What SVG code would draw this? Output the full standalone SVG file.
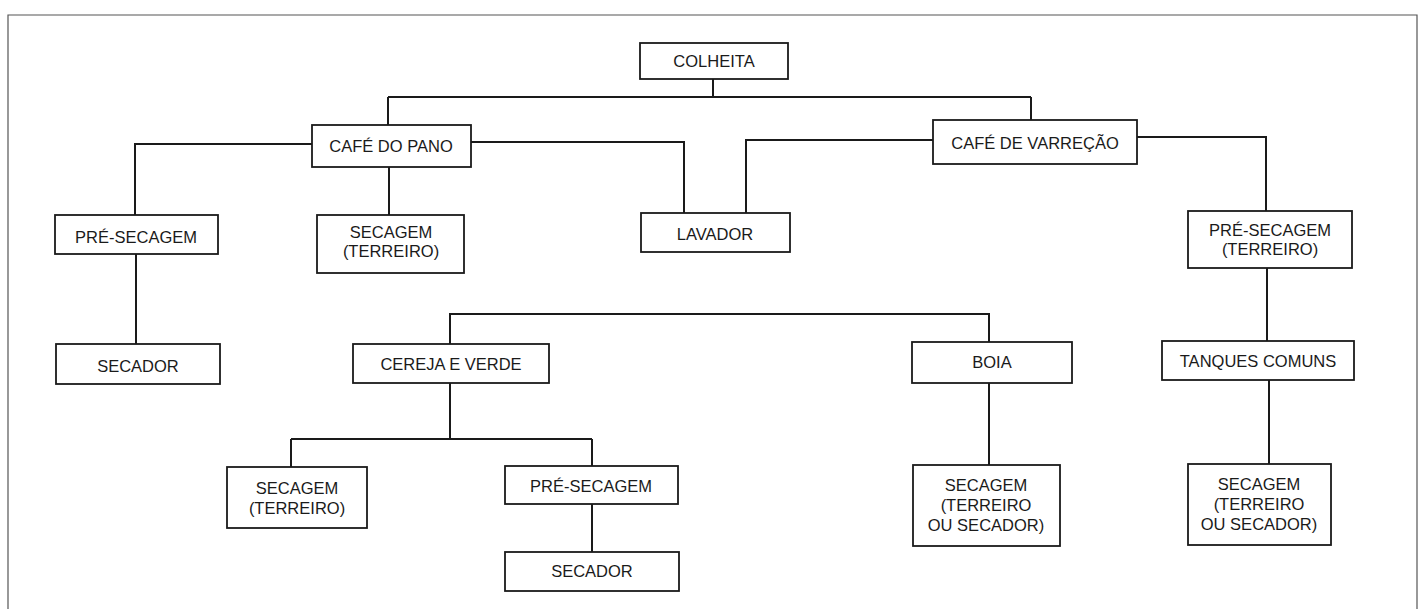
<svg xmlns="http://www.w3.org/2000/svg" width="1424" height="609" viewBox="0 0 1424 609">
<style>
.box{fill:#fff;stroke:#1a1a1a;stroke-width:1.8}
.t{font-family:"Liberation Sans",Arial,sans-serif;font-size:16.5px;fill:#1a1a1a;text-anchor:middle}
.c{fill:none;stroke:#1a1a1a;stroke-width:2}
.frame{fill:none;stroke:#555;stroke-width:1.2}
</style>
<rect width="1424" height="609" fill="#fff"/>
<path class="frame" d="M8,620 V15 H1417 V620"/>
<g id="connectors">
<path class="c" d="M713,79 V97 M388,97 H1031 M388,97 V125 M1031,97 V120"/>
<path class="c" d="M312,144 H135 V215"/>
<path class="c" d="M389,167 V215"/>
<path class="c" d="M471,142 H684 V213"/>
<path class="c" d="M933,140 H746 V213"/>
<path class="c" d="M1137,137 H1266 V211"/>
<path class="c" d="M136,254 V344"/>
<path class="c" d="M1267,268 V341"/>
<path class="c" d="M1269,380 V464"/>
<path class="c" d="M450,344 V314 H989 V342"/>
<path class="c" d="M989,383 V465"/>
<path class="c" d="M450,383 V439 M291,439 H592 M291,439 V467 M592,439 V466"/>
<path class="c" d="M592,504 V552"/>
</g>
<g id="colheita"><rect class="box" x="640" y="43" width="148" height="36"/><text class="t" x="714" y="67">COLHEITA</text></g>
<g id="cafe-do-pano"><rect class="box" x="312" y="125" width="159" height="42"/><text class="t" x="391" y="152">CAFÉ DO PANO</text></g>
<g id="cafe-de-varrecao"><rect class="box" x="933" y="120" width="204" height="44"/><text class="t" x="1035" y="149">CAFÉ DE VARREÇÃO</text></g>
<g id="pre-secagem-1"><rect class="box" x="55" y="215" width="163" height="39"/><text class="t" x="136" y="243">PRÉ-SECAGEM</text></g>
<g id="secador-1"><rect class="box" x="56" y="344" width="164" height="40"/><text class="t" x="138" y="372">SECADOR</text></g>
<g id="secagem-terreiro-1"><rect class="box" x="317" y="215" width="147" height="58"/><text class="t" x="391" y="238">SECAGEM</text><text class="t" x="391" y="257">(TERREIRO)</text></g>
<g id="lavador"><rect class="box" x="641" y="213" width="149" height="39"/><text class="t" x="715" y="240">LAVADOR</text></g>
<g id="pre-secagem-terreiro"><rect class="box" x="1188" y="211" width="164" height="57"/><text class="t" x="1270" y="236">PRÉ-SECAGEM</text><text class="t" x="1270" y="255">(TERREIRO)</text></g>
<g id="tanques-comuns"><rect class="box" x="1162" y="341" width="192" height="39"/><text class="t" x="1258" y="367">TANQUES COMUNS</text></g>
<g id="secagem-ts-2"><rect class="box" x="1188" y="464" width="143" height="81"/><text class="t" x="1259" y="490">SECAGEM</text><text class="t" x="1259" y="510">(TERREIRO</text><text class="t" x="1259" y="530">OU SECADOR)</text></g>
<g id="cereja-e-verde"><rect class="box" x="353" y="344" width="196" height="39"/><text class="t" x="451" y="370">CEREJA E VERDE</text></g>
<g id="boia"><rect class="box" x="912" y="342" width="160" height="41"/><text class="t" x="992" y="368">BOIA</text></g>
<g id="secagem-ts-1"><rect class="box" x="913" y="465" width="147" height="81"/><text class="t" x="986" y="491">SECAGEM</text><text class="t" x="986" y="511">(TERREIRO</text><text class="t" x="986" y="531">OU SECADOR)</text></g>
<g id="secagem-terreiro-2"><rect class="box" x="227" y="467" width="140" height="61"/><text class="t" x="297" y="494">SECAGEM</text><text class="t" x="297" y="514">(TERREIRO)</text></g>
<g id="pre-secagem-2"><rect class="box" x="505" y="466" width="173" height="38"/><text class="t" x="591" y="492">PRÉ-SECAGEM</text></g>
<g id="secador-2"><rect class="box" x="505" y="552" width="174" height="39"/><text class="t" x="592" y="577">SECADOR</text></g>
</svg>
